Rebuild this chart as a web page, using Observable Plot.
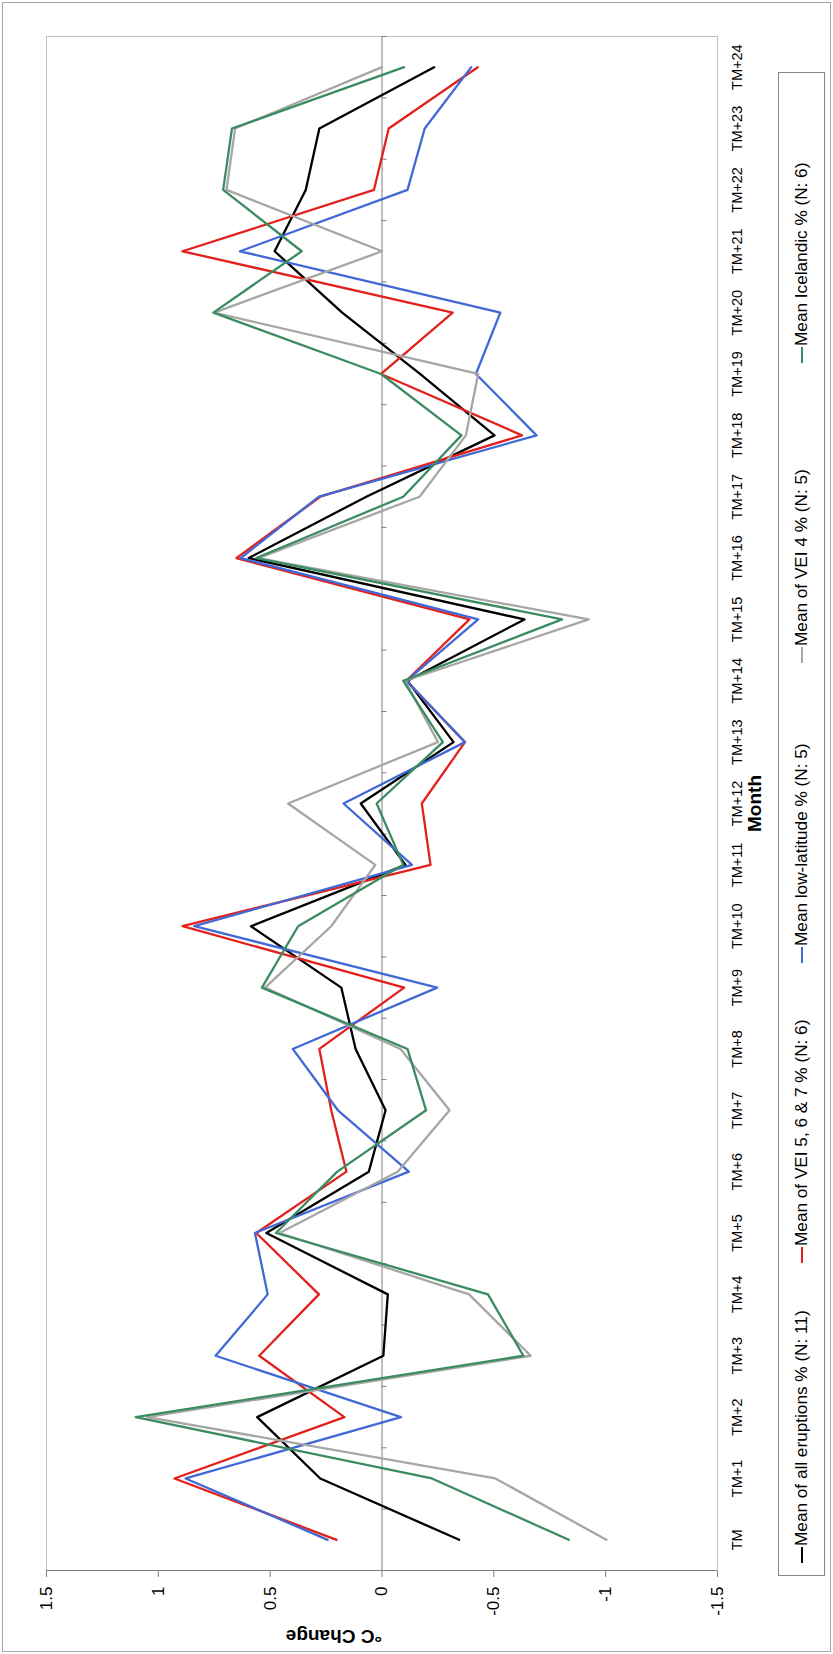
<!DOCTYPE html>
<html>
<head>
<meta charset="utf-8">
<script src="https://cdn.jsdelivr.net/npm/d3@7"></script>
<script src="https://cdn.jsdelivr.net/npm/@observablehq/plot@0.6"></script>
<style>
  html, body { margin: 0; padding: 0; background: #fff; }
  body { width: 833px; height: 1654px; overflow: hidden; position: relative; }
  /* The chart is laid out landscape and turned a quarter-turn anticlockwise onto the page */
  #figure {
    position: absolute; left: 0; top: 0; width: 1654px; height: 833px;
    transform-origin: 0 0; transform: translate(0px, 1654px) rotate(-90deg);
    font-family: Arial, "Liberation Sans", sans-serif; background: #fff;
  }
  #outline { position: absolute; left: 2px; top: 2px; right: 2px; bottom: 2px; border: 1.5px solid #a6a6a6; }
  #chart { position: absolute; left: 0; top: 0; }
  #legend {
    position: absolute; left: 78px; top: 778px; width: 1504px; height: 47px;
    box-sizing: border-box; border: 1px solid #868686; background: #fff;
    padding-left: 12px; display: flex; align-items: center;
    font-size: 17.2px; color: #000; white-space: nowrap;
  }
  #legend .entry { display: flex; align-items: center; width: 300px; flex: none; }
  #legend .swatch { display: inline-block; width: 16px; height: 2px; margin-right: 1px; }
</style>
</head>
<body>
<div id="figure">
  <div id="outline"></div>
  <div id="chart"></div>
  <div id="legend"></div>
</div>
<script>
// Months after the eruption month
const months = ["TM","TM+1","TM+2","TM+3","TM+4","TM+5","TM+6","TM+7","TM+8","TM+9","TM+10","TM+11","TM+12",
  "TM+13","TM+14","TM+15","TM+16","TM+17","TM+18","TM+19","TM+20","TM+21","TM+22","TM+23","TM+24"];

// Mean temperature change (°C) per eruption group
const allEruptions = [-0.345, 0.276, 0.558, -0.006, -0.026, 0.517, 0.059, -0.016, 0.118, 0.182, 0.586, -0.105, 0.095,
  -0.32, -0.114, -0.637, 0.596, 0.07, -0.503, -0.17, 0.178, 0.48, 0.341, 0.28, -0.233];
const vei567 = [0.203, 0.928, 0.168, 0.549, 0.282, 0.562, 0.159, 0.227, 0.28, -0.099, 0.892, -0.217, -0.178,
  -0.371, -0.109, -0.391, 0.651, 0.276, -0.626, 0.004, -0.316, 0.892, 0.036, -0.03, -0.428];
const lowLatitude = [0.243, 0.878, -0.085, 0.744, 0.511, 0.568, -0.12, 0.197, 0.399, -0.247, 0.839, -0.134, 0.172,
  -0.371, -0.109, -0.43, 0.632, 0.282, -0.691, -0.42, -0.529, 0.635, -0.114, -0.191, -0.399];
const vei4 = [-1.003, -0.507, 1.05, -0.665, -0.389, 0.458, -0.07, -0.302, -0.083, 0.523, 0.227, 0.03, 0.42,
  -0.25, -0.103, -0.924, 0.553, -0.168, -0.375, -0.43, 0.75, 0.0, 0.695, 0.657, 0.0];
const icelandic = [-0.835, -0.223, 1.101, -0.632, -0.474, 0.474, 0.2, -0.197, -0.114, 0.537, 0.375, -0.095, 0.024,
  -0.272, -0.095, -0.805, 0.562, -0.095, -0.355, 0.004, 0.754, 0.359, 0.71, 0.671, -0.099];

const seriesNames = ["Mean of all eruptions % (N: 11)", "Mean of VEI 5, 6 & 7 % (N: 6)",
  "Mean low-latitude % (N: 5)", "Mean of VEI 4 % (N: 5)", "Mean Icelandic % (N: 6)"];
const seriesValues = [allEruptions, vei567, lowLatitude, vei4, icelandic];
const seriesColors = ["#000000", "#e3211c", "#4169d6", "#a6a6a6", "#3b8b60"];

const valueTicks = [-1.5, -1, -0.5, 0, 0.5, 1, 1.5];

// Long-format table for the line mark
const rows = [];
seriesValues.forEach((values, s) => values.forEach((value, i) => rows.push({i, value, name: seriesNames[s]})));

const W = 1654, H = 775;
const mTop = 46, mBottom = H - 717, mLeft = 83, mRight = 37;
const pxPerUnit = (H - mTop - mBottom) / (valueTicks[valueTicks.length - 1] - valueTicks[0]);
const minorTick = 5 / pxPerUnit;                       // tick length on the zero line, in °C
const boundaries = d3.range(-0.5, months.length, 1);    // category boundaries

const chart = Plot.plot({
  width: W, height: H,
  marginTop: mTop, marginBottom: mBottom, marginLeft: mLeft, marginRight: mRight,
  style: {fontFamily: 'Arial, "Liberation Sans", sans-serif', background: "transparent", color: "#000", overflow: "visible"},
  x: {domain: [-0.5, months.length - 0.5], axis: null},
  y: {domain: [valueTicks[0], valueTicks[valueTicks.length - 1]], axis: null},
  color: {domain: seriesNames, range: seriesColors},
  marks: [
    Plot.frame({stroke: "#c0c0c0"}),
    Plot.ruleY([0], {stroke: "#7f7f7f", strokeWidth: 1}),
    Plot.ruleX(boundaries, {x: d => d, y1: 0, y2: -minorTick, stroke: "#7f7f7f"}),
    Plot.ruleX([-0.5], {stroke: "#7f7f7f"}),
    Plot.axisY({ticks: valueTicks, tickFormat: d => String(d), tickSize: 6, tickPadding: 10,
      fontSize: 17, stroke: "#7f7f7f", fill: "#000", label: null}),
    Plot.axisX({ticks: d3.range(months.length), tickFormat: i => months[i], tickSize: 0, tickPadding: 14,
      fontSize: 14.5, fill: "#000", label: null}),
    Plot.line(rows, {x: "i", y: "value", z: "name", stroke: "name", strokeWidth: 2.3}),
    Plot.text(["Month"], {frameAnchor: "bottom", dy: 43, fontSize: 19, fontWeight: "bold", fill: "#000"}),
    Plot.text(["°C Change"], {frameAnchor: "left", dx: -66, rotate: -90, fontSize: 19, fontWeight: "bold", fill: "#000"})
  ]
});
document.getElementById("chart").appendChild(chart);

// Legend row
const legend = d3.select("#legend");
seriesNames.forEach((name, s) => {
  const entry = legend.append("div").attr("class", "entry");
  entry.append("span").attr("class", "swatch").style("background", seriesColors[s]);
  entry.append("span").text(name);
});
</script>
</body>
</html>
